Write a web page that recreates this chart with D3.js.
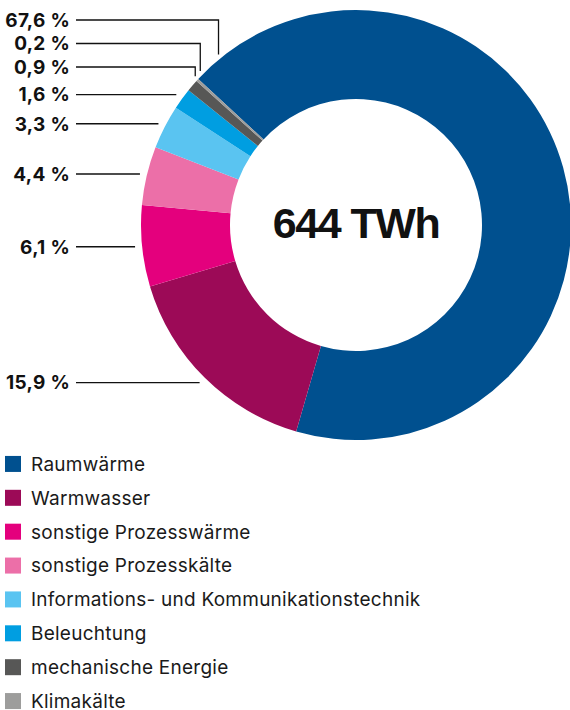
<!DOCTYPE html>
<html>
<head>
<meta charset="utf-8">
<script src="https://cdn.jsdelivr.net/npm/d3@7"></script>
<style>
  body { margin: 0; background: #fff; }
  svg { display: block; font-family: Inter, "Liberation Sans", Arial, sans-serif; }
</style>
</head>
<body>
<script>
const categories = [
  'Raumwärme',
  'Warmwasser',
  'sonstige Prozesswärme',
  'sonstige Prozesskälte',
  'Informations- und Kommunikationstechnik',
  'Beleuchtung',
  'mechanische Energie',
  'Klimakälte'
]
const shares = [67.6, 15.9, 6.1, 4.4, 3.3, 1.6, 0.9, 0.2]
const shareLabels = ['67,6 %', '15,9 %', '6,1 %', '4,4 %', '3,3 %', '1,6 %', '0,9 %', '0,2 %']
const colors = ['#00508f', '#9c0a57', '#e4007d', '#ec6fa8', '#5ac4f1', '#009ee1', '#575756', '#9d9d9c']
const total = '644 TWh'

const width = 570
const height = 710
const cx = 356, cy = 225
const outerR = 215, innerR = 126
const labelX = 70
const lineStart = 76

const svg = d3.select('body').append('svg')
    .attr('width', width)
    .attr('height', height)

const data = categories.map((c, i) => ({ name: c, value: shares[i], label: shareLabels[i], color: colors[i] }))

const startAngle = -47.2 * Math.PI / 180
const pie = d3.pie()
  .sort(null)
  .value(d => d.value)
  .startAngle(startAngle)
  .endAngle(startAngle + 2 * Math.PI)

const arcs = pie(data)
const arc = d3.arc().innerRadius(innerR).outerRadius(outerR)

const g = svg.append('g').attr('transform', `translate(${cx},${cy})`)

g.selectAll('path')
    .data(arcs)
  .enter().append('path')
    .attr('d', arc)
    .attr('fill', d => d.data.color)

g.append('text')
    .attr('x', 0)
    .attr('y', 13)
    .attr('text-anchor', 'middle')
    .style('font-family', '"Liberation Sans", Arial, sans-serif')
    .style('font-size', '43px')
    .style('font-weight', 'bold')
    .style('letter-spacing', '-1.5px')
    .attr('fill', '#111')
    .text(total)

// labels: small slices at the top (and the big one) get elbow leaders stacked in rows,
// the rest point horizontally to their mid angle
const stacked = [0, 7, 6] // row order from top
const rowY0 = 20, rowStep = 23.5
const leaderR = 222

const labels = arcs.map((d, i) => {
  const row = stacked.indexOf(i)
  if (row >= 0) {
    const a = i === 0 ? d.startAngle + 0.13 : (d.startAngle + d.endAngle) / 2 + 0.02
    const x = cx + Math.sin(a) * outerR
    const yEdge = cy - Math.sqrt(Math.max(0, (outerR + 4) ** 2 - (x - cx) ** 2))
    const y = rowY0 + row * rowStep
    return { d, y, points: [[lineStart, y], [x, y], [x, yEdge]] }
  }
  const a = (d.startAngle + d.endAngle) / 2
  const y = cy - Math.cos(a) * leaderR
  const x = cx + Math.sin(a) * leaderR
  return { d, y, points: [[lineStart, y], [x, y]] }
})

svg.selectAll('.leader')
    .data(labels)
  .enter().append('polyline')
    .attr('class', 'leader')
    .attr('points', l => l.points.map(p => p.join(',')).join(' '))
    .attr('fill', 'none')
    .attr('stroke', '#111')
    .attr('stroke-width', 1.3)

svg.selectAll('.pct')
    .data(labels)
  .enter().append('text')
    .attr('class', 'pct')
    .attr('x', labelX)
    .attr('y', l => l.y)
    .attr('dy', '0.36em')
    .attr('text-anchor', 'end')
    .style('font-size', '19px')
    .style('font-weight', 'bold')
    .style('letter-spacing', '0.3px')
    .attr('fill', '#111')
    .text(l => l.d.data.label)

// legend
const legendY = d3.scaleBand()
  .domain(categories)
  .range([447, 718])

const legend = svg.selectAll('.legend')
    .data(data)
  .enter().append('g')
    .attr('class', 'legend')
    .attr('transform', d => `translate(0,${legendY(d.name) + legendY.bandwidth() / 2})`)

legend.append('rect')
    .attr('x', 5)
    .attr('y', -8)
    .attr('width', 16)
    .attr('height', 16)
    .attr('fill', d => d.color)

legend.append('text')
    .attr('x', 31)
    .attr('y', 0)
    .attr('dy', '0.36em')
    .style('font-size', '19px')
    .style('letter-spacing', '0.25px')
    .attr('fill', '#1a1a1a')
    .text(d => d.name)
</script>
</body>
</html>
